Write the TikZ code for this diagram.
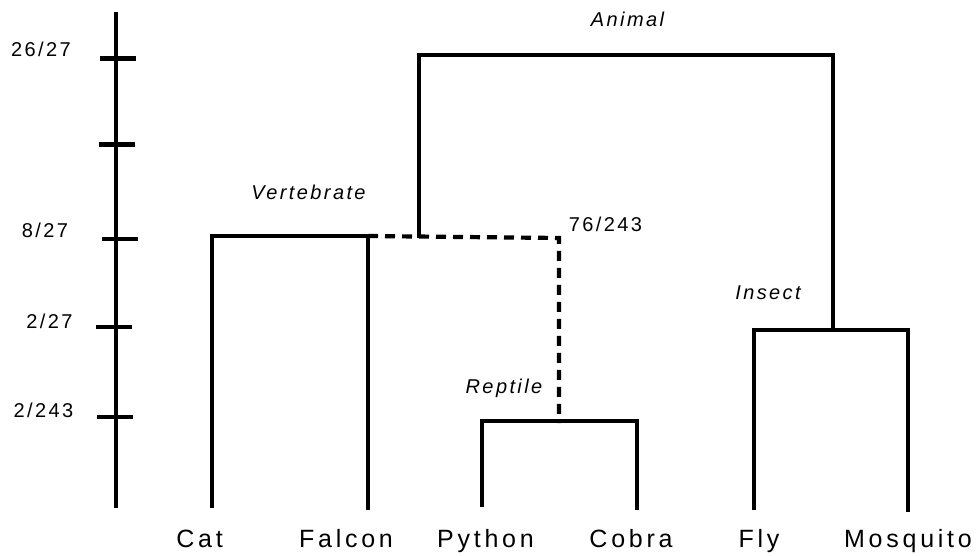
\documentclass[tikz,border=0pt]{standalone}
\usepackage{fontspec}
\setmainfont{Liberation Sans}
\newfontfamily\leaffont{Liberation Sans}[LetterSpace=15]
\newfontfamily\cladefont{Liberation Sans}[LetterSpace=12]
\newfontfamily\numfont{Liberation Sans}[LetterSpace=12]
\begin{document}
\begin{tikzpicture}[x=1pt,y=-1pt,
  branch/.style={line width=4.2pt,line cap=butt,line join=miter},
  dashbranch/.style={line width=4.2pt,dash pattern=on 10pt off 7pt},
  tickmark/.style={line width=4.2pt},
  leaf/.style={anchor=base,inner sep=0pt,font=\leaffont\fontsize{25}{30}\selectfont},
  clade/.style={anchor=base,inner sep=0pt,font=\cladefont\itshape\fontsize{20}{24}\selectfont},
  val/.style={anchor=base,inner sep=0pt,font=\numfont\fontsize{20}{24}\selectfont}]
\useasboundingbox (0,0) rectangle (976,556);
% axis
\coordinate (axtop) at (116,12);
\coordinate (axbot) at (116,508);
\draw[branch] (axtop) -- (axbot);
\foreach \n/\y/\a/\b in {t1/58.5/100/136, t2/144.5/99/135, t3/239/102/138, t4/327/96/132, t5/417/97/133}{
  \coordinate (\n a) at (\a,\y);
  \coordinate (\n b) at (\b,\y);
  \draw[tickmark] (\n a) -- (\n b);
}
\node[val] (v1) at (41,56.5) {26/27};
\node[val] (v2) at (45,237) {8/27};
\node[val] (v3) at (49.5,328) {2/27};
\node[val] (v4) at (43.5,417) {2/243};
\node[val] (v5) at (605.5,231) {76/243};
% leaves
\coordinate (cat) at (212,508);
\coordinate (falcon) at (368,510);
\coordinate (python) at (482,507);
\coordinate (cobra) at (637,510);
\coordinate (fly) at (754,510);
\coordinate (mosquito) at (908,512);
% internal nodes
\coordinate (vert) at (290,236);
\coordinate (rep) at (559,421);
\coordinate (rept) at (559,238);
\coordinate (ins) at (833,330);
\coordinate (anim) at (419,238);
\coordinate (animtop) at (626,55);
% vertebrate
\draw[branch] (cat) |- (vert) -| (falcon);
% reptile
\draw[branch] (python) |- (rep) -| (cobra);
% insect
\draw[branch] (fly) |- (ins) -| (mosquito);
% dashed link
\draw[dashbranch] (falcon |- vert) -- (rept) -- ([yshift=-2pt]rep);
% animal
\draw[branch] (anim) |- (animtop) -| (ins);
% labels
\node[leaf] (lcat) at (199.5,547) {Cat};
\node[leaf] (lfal) at (346,547) {Falcon};
\node[leaf] (lpyt) at (485.5,547) {Python};
\node[leaf] (lcob) at (631,547) {Cobra};
\node[leaf] (lfly) at (759,547) {Fly};
\node[leaf] (lmos) at (908,547) {Mosquito};
\node[clade] (cv) at (308.5,199) {Vertebrate};
\node[clade] (ca) at (627.5,27) {Animal};
\node[clade] (ci) at (768,299) {Insect};
\node[clade] (cr) at (504,393) {Reptile};
\end{tikzpicture}
\end{document}
